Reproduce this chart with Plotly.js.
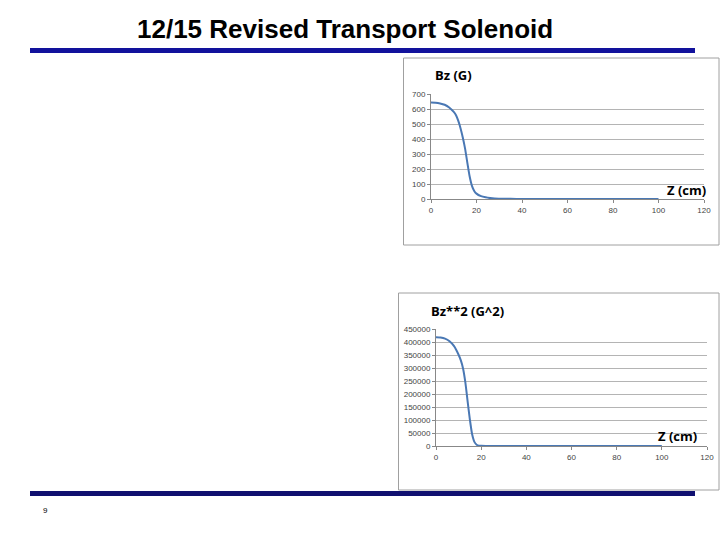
<!DOCTYPE html>
<html>
<head>
<meta charset="utf-8">
<script src="https://cdn.plot.ly/plotly-3.0.1.min.js"></script>
<style>html,body{margin:0;padding:0;background:#fff;}#chart{width:720px;height:540px;}</style>
</head>
<body>
<div id="chart"></div>
<script>
// Top chart: Bz (G) vs Z (cm)
const zTop = [0, 2, 4, 6, 8, 10, 11, 12, 13, 14, 15, 16, 17, 18, 19, 20, 22, 24, 26, 28, 30, 35, 40, 50, 60, 70, 80, 90, 100];
const bzTop = [645, 644, 639, 630, 612, 582, 560, 522, 472, 410, 335, 240, 150, 88, 54, 36, 19, 11, 6, 3, 2, 1, 0.5, 0, 0, 0, 0, 0, 0];
// Bottom chart: Bz**2 (G^2) vs Z (cm)
const zBot = [0, 2, 4, 6, 8, 10, 11, 12, 13, 14, 15, 16, 17, 18, 19, 20, 22, 25, 30, 40, 50, 60, 70, 80, 90, 100];
const bz2Bot = [419000, 418000, 414000, 404000, 385000, 352000, 330000, 298000, 245000, 172000, 102000, 45000, 16000, 5000, 1500, 500, 100, 0, 0, 0, 0, 0, 0, 0, 0, 0];
const xTicks = [0, 20, 40, 60, 80, 100, 120];
const yTicksTop = [0, 100, 200, 300, 400, 500, 600, 700];
const yTicksBot = [0, 50000, 100000, 150000, 200000, 250000, 300000, 350000, 400000, 450000];
const slideTitle = "12/15 Revised Transport Solenoid";
const pageNumber = "9";

const lineColor = "#4a78b4";
const tickFont = {family: "Liberation Sans, Arial, sans-serif", size: 8, color: "#444"};
const gridColor = "#b4b4b4";

function xAxis(domain, anchor) {
  return {domain: domain, anchor: anchor, range: [0, 120], tickvals: xTicks, ticktext: xTicks.map(String),
    showgrid: false, zeroline: false, showline: true, linecolor: "#888", linewidth: 1,
    ticks: "outside", ticklen: 3, tickcolor: "#888", tickfont: tickFont, fixedrange: true};
}
function yAxis(domain, anchor, range, vals) {
  return {domain: domain, anchor: anchor, range: range, tickvals: vals, ticktext: vals.map(String),
    showgrid: true, gridcolor: gridColor, gridwidth: 1, zeroline: false, showline: true, linecolor: "#888",
    ticks: "outside", ticklen: 3, tickcolor: "#888", tickfont: tickFont, fixedrange: true};
}

const data = [
  {x: zTop, y: bzTop, type: "scatter", mode: "lines", line: {color: lineColor, width: 2, shape: "spline", smoothing: 0.6}, xaxis: "x", yaxis: "y", hoverinfo: "none"},
  {x: zBot, y: bz2Bot, type: "scatter", mode: "lines", line: {color: lineColor, width: 2, shape: "spline", smoothing: 0.6}, xaxis: "x2", yaxis: "y2", hoverinfo: "none"}
];

const W = 720, H = 540;
const px = v => v / W, py = v => 1 - v / H;

const layout = {
  width: W, height: H, margin: {l: 0, r: 0, t: 0, b: 0},
  paper_bgcolor: "#fff", plot_bgcolor: "rgba(0,0,0,0)", showlegend: false,
  xaxis: xAxis([px(431), px(704)], "y"),
  yaxis: yAxis([py(199), py(94.3)], "x", [0, 700], yTicksTop),
  xaxis2: xAxis([px(436), px(707)], "y2"),
  yaxis2: yAxis([py(446), py(329.3)], "x2", [0, 450000], yTicksBot),
  shapes: [
    {type: "rect", xref: "paper", yref: "paper", x0: px(403.5), x1: px(719), y0: py(245), y1: py(58), line: {color: "#a0a0a0", width: 1}, fillcolor: "rgba(0,0,0,0)", layer: "below"},
    {type: "rect", xref: "paper", yref: "paper", x0: px(398.5), x1: px(719), y0: py(490), y1: py(293), line: {color: "#a0a0a0", width: 1}, fillcolor: "rgba(0,0,0,0)", layer: "below"},
    {type: "rect", xref: "paper", yref: "paper", x0: px(30), x1: px(695), y0: py(53), y1: py(48), line: {width: 0}, fillcolor: "#12129c"},
    {type: "rect", xref: "paper", yref: "paper", x0: px(30), x1: px(695), y0: py(496), y1: py(491), line: {width: 0}, fillcolor: "#101070"}
  ],
  annotations: [
    {text: "<b>" + slideTitle + "</b>", xref: "paper", yref: "paper", x: px(344.5), y: py(28.5), xanchor: "center", yanchor: "middle", showarrow: false, font: {family: "Liberation Sans, Arial, sans-serif", size: 26, color: "#000"}},
    {text: "<b>Bz (G)</b>", xref: "paper", yref: "paper", x: px(433), y: py(75), xanchor: "left", yanchor: "middle", showarrow: false, font: {family: "Open Sans, sans-serif", size: 13, color: "#000"}},
    {text: "<b>Z (cm)</b>", xref: "paper", yref: "paper", x: px(708), y: py(190), xanchor: "right", yanchor: "middle", showarrow: false, font: {family: "Open Sans, sans-serif", size: 13, color: "#000"}},
    {text: "<b>Bz**2 (G^2)</b>", xref: "paper", yref: "paper", x: px(429), y: py(311), xanchor: "left", yanchor: "middle", showarrow: false, font: {family: "Open Sans, sans-serif", size: 13, color: "#000"}},
    {text: "<b>Z (cm)</b>", xref: "paper", yref: "paper", x: px(699), y: py(436), xanchor: "right", yanchor: "middle", showarrow: false, font: {family: "Open Sans, sans-serif", size: 13, color: "#000"}},
    {text: pageNumber, xref: "paper", yref: "paper", x: px(45), y: py(510), xanchor: "center", yanchor: "middle", showarrow: false, font: {family: "Liberation Sans, Arial, sans-serif", size: 8, color: "#000"}}
  ]
};

Plotly.newPlot("chart", data, layout, {staticPlot: true, displayModeBar: false});
</script>
</body>
</html>
